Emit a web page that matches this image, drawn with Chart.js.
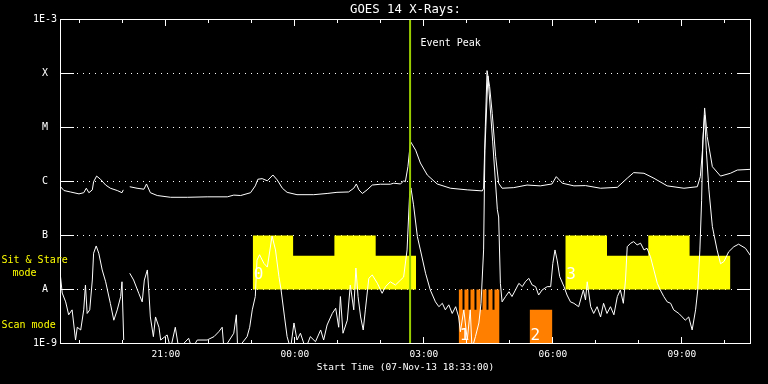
<!DOCTYPE html>
<html>
<head>
<meta charset="utf-8">
<script src="https://cdn.jsdelivr.net/npm/chart.js@4/dist/chart.umd.min.js"></script>
<style>
  html, body { margin: 0; padding: 0; background: #000; }
  canvas { display: block; }
</style>
</head>
<body>
<canvas id="c" width="768" height="384"></canvas>
<script>
// ---- Data (time in hours after start 07-Nov-13 18:33:00) ----
const chartTitle = 'GOES 14 X-Rays:';
const xTitle = 'Start Time (07-Nov-13 18:33:00)';
const xMaxHours = 16.047;

const xTickHours = [2.45, 5.45, 8.45, 11.45, 14.45];
const xTickLabels = ['21:00', '00:00', '03:00', '06:00', '09:00'];
const hourTickHours = [0.45, 1.45, 2.45, 3.45, 4.45, 5.45, 6.45, 7.45, 8.45, 9.45, 10.45, 11.45, 12.45, 13.45, 14.45, 15.45];

const yTickValues = [1e-9, 1e-8, 1e-7, 1e-6, 1e-5, 1e-4, 1e-3];
const yTickLabels = ['1E-9', 'A', 'B', 'C', 'M', 'X', '1E-3'];
const gridLevels = [1e-8, 1e-7, 1e-6, 1e-5, 1e-4];

// GOES 1-8 A (long channel)
const longTime = [0.00,0.08,0.23,0.43,0.54,0.60,0.66,0.74,0.77,0.84,0.93,1.05,1.16,1.32,1.43,1.46,1.53,1.61,1.78,1.94,2.00,2.09,2.25,2.56,2.95,3.41,3.88,4.03,4.19,4.42,4.53,4.59,4.69,4.81,4.94,5.04,5.16,5.27,5.50,5.89,6.20,6.43,6.70,6.82,6.88,6.94,7.02,7.13,7.25,7.44,7.67,7.75,7.91,7.98,8.02,8.08,8.14,8.26,8.37,8.53,8.76,9.07,9.46,9.81,9.84,9.88,9.92,9.98,10.04,10.12,10.19,10.27,10.54,10.85,11.16,11.43,11.53,11.67,11.94,12.21,12.56,12.95,13.18,13.33,13.57,13.80,14.11,14.50,14.81,14.88,14.93,14.98,15.04,15.16,15.35,15.58,15.74,16.05];
const longFlux = [8.0e-7,6.8e-7,6.4e-7,5.9e-7,6.2e-7,7.5e-7,6.2e-7,7.0e-7,9.9e-7,1.26e-6,1.1e-6,8.6e-7,7.5e-7,6.8e-7,6.2e-7,7.0e-7,null,8.0e-7,7.5e-7,7.2e-7,9.0e-7,6.2e-7,5.5e-7,5.1e-7,5.1e-7,5.2e-7,5.2e-7,5.6e-7,5.5e-7,6.2e-7,8.3e-7,1.1e-6,1.13e-6,1.03e-6,1.32e-6,1.07e-6,7.5e-7,6.3e-7,5.7e-7,5.7e-7,6.0e-7,6.3e-7,6.4e-7,7.5e-7,9.0e-7,7.0e-7,6.0e-7,7.0e-7,8.6e-7,8.9e-7,8.9e-7,9.3e-7,9.0e-7,1.03e-6,9.9e-7,1.88e-6,5.5e-6,3.8e-6,2.2e-6,1.32e-6,9.0e-7,7.5e-7,7.0e-7,6.7e-7,7.5e-7,1.03e-5,1.13e-4,5.7e-5,1.83e-5,2.9e-6,9.3e-7,7.5e-7,7.7e-7,8.6e-7,8.3e-7,9.0e-7,1.23e-6,9.3e-7,8.3e-7,8.4e-7,7.5e-7,7.8e-7,1.15e-6,1.46e-6,1.42e-6,1.15e-6,8.3e-7,7.5e-7,8.0e-7,1.23e-6,3.8e-6,2.3e-5,6.8e-6,1.88e-6,1.26e-6,1.42e-6,1.63e-6,1.68e-6];

// GOES 0.5-4 A (short channel)
const shortTime = [0.00,0.04,0.12,0.19,0.27,0.35,0.39,0.47,0.54,0.58,0.62,0.68,0.74,0.77,0.83,0.89,0.97,1.05,1.16,1.24,1.32,1.40,1.43,1.47,1.53,1.61,1.70,1.82,1.90,1.95,2.02,2.05,2.09,2.16,2.21,2.29,2.33,2.48,2.56,2.67,2.75,2.98,3.06,3.18,3.41,3.57,3.68,3.76,3.80,4.03,4.09,4.12,4.34,4.40,4.46,4.53,4.57,4.63,4.73,4.81,4.92,5.00,5.08,5.13,5.21,5.27,5.35,5.43,5.50,5.58,5.70,5.81,5.93,6.05,6.12,6.20,6.32,6.40,6.47,6.51,6.57,6.67,6.74,6.82,6.87,6.92,6.98,7.04,7.09,7.17,7.25,7.37,7.48,7.56,7.67,7.79,7.91,7.98,8.06,8.12,8.15,8.21,8.30,8.37,8.49,8.60,8.72,8.80,8.88,8.95,9.03,9.11,9.19,9.26,9.30,9.38,9.46,9.53,9.57,9.65,9.73,9.78,9.84,9.87,9.94,10.05,10.16,10.19,10.23,10.27,10.35,10.43,10.50,10.58,10.66,10.74,10.81,10.89,10.97,11.05,11.12,11.20,11.32,11.40,11.45,11.50,11.55,11.61,11.71,11.78,11.86,11.94,12.05,12.16,12.21,12.25,12.33,12.40,12.48,12.56,12.63,12.71,12.79,12.87,12.95,13.02,13.09,13.14,13.18,13.26,13.33,13.41,13.49,13.57,13.64,13.72,13.80,13.88,13.95,14.03,14.11,14.19,14.26,14.38,14.46,14.53,14.61,14.69,14.77,14.82,14.87,14.91,14.94,14.98,15.02,15.08,15.16,15.27,15.35,15.43,15.54,15.66,15.77,15.93,16.05];
const shortFlux = [1.73e-8,8.6e-9,5.9e-9,3.4e-9,4.2e-9,1.16e-9,2.0e-9,1.78e-9,4.2e-9,1.21e-8,3.6e-9,4.2e-9,1.5e-8,4.7e-8,6.4e-8,4.7e-8,2.3e-8,1.39e-8,5.5e-9,2.7e-9,4.2e-9,7.4e-9,1.39e-8,1.16e-9,null,2.0e-8,1.5e-8,8.5e-9,5.9e-9,1.5e-8,2.3e-8,1.05e-8,3.1e-9,1.34e-9,3.1e-9,2.0e-9,1.16e-9,1.44e-9,8e-10,2.0e-9,8e-10,1.25e-9,8e-10,1.16e-9,1.16e-9,1.34e-9,1.65e-9,2.0e-9,8e-10,1.55e-9,3.4e-9,8e-10,1.34e-9,2.0e-9,4.2e-9,7.4e-9,3.5e-8,4.4e-8,3.05e-8,2.6e-8,9.8e-8,5.4e-8,1.73e-8,9.8e-9,3.1e-9,1.34e-9,8e-10,2.4e-9,1.16e-9,1.55e-9,8e-10,1.34e-9,1.08e-9,1.78e-9,1.16e-9,2.2e-9,3.6e-9,4.5e-9,2.0e-9,7.4e-9,1.55e-9,2.7e-9,1.21e-8,4.2e-9,2.5e-8,7.4e-9,3.1e-9,1.78e-9,4.2e-9,1.61e-8,1.86e-8,1.3e-8,8.5e-9,1.13e-8,1.39e-8,1.21e-8,1.5e-8,1.7e-8,5.4e-8,6.0e-7,7.6e-7,3.7e-7,9.5e-8,5.4e-8,2.0e-8,9.8e-9,5.9e-9,4.8e-9,5.55e-9,4.2e-9,5.2e-9,3.6e-9,4.8e-9,3.1e-9,1.65e-9,4.2e-9,1.16e-9,4.2e-9,8e-10,1.34e-9,2.4e-9,5.55e-9,5.4e-8,3.8e-6,9.0e-5,5.6e-6,3.0e-7,2.2e-7,1.3e-8,5.9e-9,7.4e-9,9.1e-9,7.4e-9,9.8e-9,1.3e-8,1.13e-8,1.39e-8,1.61e-8,1.21e-8,1.13e-8,7.9e-9,9.8e-9,1.13e-8,1.13e-8,3.05e-8,5.4e-8,3.5e-8,1.73e-8,1.13e-8,7.9e-9,5.9e-9,5.55e-9,4.8e-9,9.8e-9,6.4e-9,1.39e-8,4.8e-9,3.6e-9,4.8e-9,3.1e-9,5.55e-9,3.6e-9,4.8e-9,3.4e-9,7.4e-9,9.8e-9,5.55e-9,1.5e-8,6.2e-8,7.2e-8,7.7e-8,6.7e-8,7.2e-8,5.4e-8,5.8e-8,4.05e-8,2.3e-8,1.3e-8,9.8e-9,7.4e-9,5.9e-9,5.55e-9,4.2e-9,3.6e-9,3.1e-9,2.7e-9,3.1e-9,1.78e-9,4.2e-9,9.8e-9,5.4e-8,4.5e-7,5.9e-6,1.7e-5,3.8e-6,7.0e-7,1.46e-7,5.4e-8,3.0e-8,3.3e-8,5.0e-8,6.2e-8,6.9e-8,5.8e-8,4.2e-8];

// Sit & Stare mode blocks (step: level held until next time)
const sitTime = [4.47, 5.41, 6.37, 7.33, 8.27, 10.0, 11.74, 12.71, 13.67, 14.63, 15.58];
const sitFlux = [1e-7, 4.2e-8, 1e-7, 4.2e-8, 4.2e-8, null, 1e-7, 4.2e-8, 1e-7, 4.2e-8, 4.2e-8];
const sitBase = 1e-8;

// Scan mode blocks
const scanTime = [9.26, 9.349, 9.395, 9.488, 9.535, 9.628, 9.674, 9.767, 9.814, 9.907, 9.953, 10.047, 10.093, 10.21, 10.5, 10.91, 11.44];
const scanFlux = [1e-8, 4.2e-9, 1e-8, 4.2e-9, 1e-8, 4.2e-9, 1e-8, 4.2e-9, 1e-8, 4.2e-9, 1e-8, 4.2e-9, 1e-8, 1e-8, null, 4.2e-9, 4.2e-9];
const scanBase = 1e-9;

const blockLabelText = ['0', '1', '2', '3'];
const blockLabelHours = [4.47, 9.26, 10.91, 11.74];
const blockLabelKind = ['sit', 'scan', 'scan', 'sit'];

const eventPeakHour = 8.13;
const eventPeakText = 'Event Peak';

// ---- Styles ----
const FONT = "'DejaVu Sans Mono', monospace";
const YELLOW = '#ffff00';
const ORANGE = '#ff8000';
const GREEN = '#9acd00';

const pts = (xs, ys) => xs.map((t, i) => ({ x: t, y: ys[i] }));

const decor = {
  id: 'decor',
  beforeDatasetsDraw(chart) {
    const { ctx, chartArea: a, scales } = chart;
    const ys = scales.y;
    ctx.save();
    ctx.fillStyle = '#ffffff';
    gridLevels.forEach(v => {
      const py = Math.floor(ys.getPixelForValue(v));
      for (let px = Math.floor(a.left) + 17; px < a.right - 15; px += 6) ctx.fillRect(px, py, 1, 1);
    });
    ctx.restore();
  },
  afterDatasetsDraw(chart) {
    const { ctx, chartArea: a, scales } = chart;
    const xs = scales.x, ys = scales.y;
    const L = Math.floor(a.left), R = Math.floor(a.right), T = Math.floor(a.top), B = Math.floor(a.bottom);
    ctx.save();
    ctx.fillStyle = '#ffffff';
    // frame
    ctx.fillRect(L, T, R - L + 1, 1);
    ctx.fillRect(L, B, R - L + 1, 1);
    ctx.fillRect(L, T, 1, B - T + 1);
    ctx.fillRect(R, T, 1, B - T + 1);
    // y decade ticks (inward)
    gridLevels.forEach(v => {
      const py = Math.floor(ys.getPixelForValue(v));
      ctx.fillRect(L, py, 14, 1);
      ctx.fillRect(R - 13, py, 14, 1);
    });
    // x ticks (inward), top and bottom
    hourTickHours.forEach(h => {
      const px = Math.floor(xs.getPixelForValue(h));
      const len = xTickHours.includes(h) ? 7 : 4;
      ctx.fillRect(px, T, 1, len);
      ctx.fillRect(px, B - len + 1, 1, len);
    });
    // Event Peak text
    ctx.font = '10px ' + FONT;
    ctx.textBaseline = 'middle';
    ctx.textAlign = 'left';
    ctx.fillText(eventPeakText, xs.getPixelForValue(eventPeakHour) + 10.5, a.top + 23.5);
    // block labels
    ctx.font = '16px ' + FONT;
    ctx.textBaseline = 'alphabetic';
    blockLabelText.forEach((txt, i) => {
      const px = xs.getPixelForValue(blockLabelHours[i]) + 1;
      const py = blockLabelKind[i] === 'sit' ? ys.getPixelForValue(sitBase) - 11 : a.bottom - 4;
      ctx.fillText(txt, px, py);
    });
    // side mode labels
    ctx.fillStyle = YELLOW;
    ctx.font = '10px ' + FONT;
    ctx.fillText('Sit & Stare', 1.5, 263);
    ctx.fillText('mode', 12.5, 275.5);
    ctx.fillText('Scan mode', 1.5, 327.5);
    ctx.restore();
  }
};

new Chart(document.getElementById('c'), {
  type: 'line',
  data: {
    datasets: [
      { label: 'Event Peak', data: [{ x: eventPeakHour, y: 1e-9 }, { x: eventPeakHour, y: 1e-3 }],
        borderColor: GREEN, borderWidth: 2, pointRadius: 0, fill: false, order: 0 },
      { label: 'GOES 1-8 A', data: pts(longTime, longFlux), borderColor: '#ffffff', borderWidth: 1,
        pointRadius: 0, fill: false, spanGaps: false, tension: 0, order: 1 },
      { label: 'GOES 0.5-4 A', data: pts(shortTime, shortFlux), borderColor: '#ffffff', borderWidth: 1,
        pointRadius: 0, fill: false, spanGaps: false, tension: 0, order: 1 },
      { label: 'Scan mode', data: pts(scanTime, scanFlux), stepped: 'before', fill: { value: scanBase },
        backgroundColor: ORANGE, borderColor: 'rgba(0,0,0,0)', borderWidth: 0, pointRadius: 0, spanGaps: false, order: 2 },
      { label: 'Sit & Stare mode', data: pts(sitTime, sitFlux), stepped: 'before', fill: { value: sitBase },
        backgroundColor: YELLOW, borderColor: 'rgba(0,0,0,0)', borderWidth: 0, pointRadius: 0, spanGaps: false, order: 3 }
    ]
  },
  options: {
    responsive: false,
    animation: false,
    devicePixelRatio: 1,
    layout: { padding: { left: 0, right: 17.5, top: 0, bottom: 0 } },
    plugins: { legend: { display: false }, tooltip: { enabled: false }, title: { display: false } },
    scales: {
      x: {
        type: 'linear', position: 'bottom', min: 0, max: xMaxHours,
        grid: { display: false, drawTicks: false }, border: { display: false },
        afterBuildTicks: s => { s.ticks = xTickHours.map(v => ({ value: v })); },
        afterFit: s => { s.height = 40.5; },
        ticks: { autoSkip: false, maxRotation: 0, color: '#ffffff', font: { family: FONT, size: 9.5 }, padding: 5.8,
                 callback: (v, i) => xTickLabels[i] },
        title: { display: true, text: xTitle, color: '#ffffff', font: { family: FONT, size: 9.5 }, padding: { top: 0, bottom: 10.3 } }
      },
      x2: {
        type: 'linear', position: 'top', min: 0, max: xMaxHours,
        grid: { display: false, drawTicks: false }, border: { display: false },
        ticks: { display: false },
        afterFit: s => { s.height = 19.5; },
        title: { display: true, text: chartTitle, color: '#ffffff', font: { family: FONT, size: 12.3 }, padding: { top: 2.1, bottom: 0 } }
      },
      y: {
        type: 'logarithmic', position: 'left', min: 1e-9, max: 1e-3,
        grid: { display: false, drawTicks: false }, border: { display: false },
        afterBuildTicks: s => { s.ticks = yTickValues.map(v => ({ value: v })); },
        afterFit: s => { s.width = 60.5; },
        ticks: { autoSkip: false, color: '#ffffff', font: { family: FONT, size: 10 }, padding: 3.5, crossAlign: 'center',
                 callback: (v, i) => yTickLabels[i] }
      }
    }
  },
  plugins: [decor]
});
</script>
</body>
</html>
